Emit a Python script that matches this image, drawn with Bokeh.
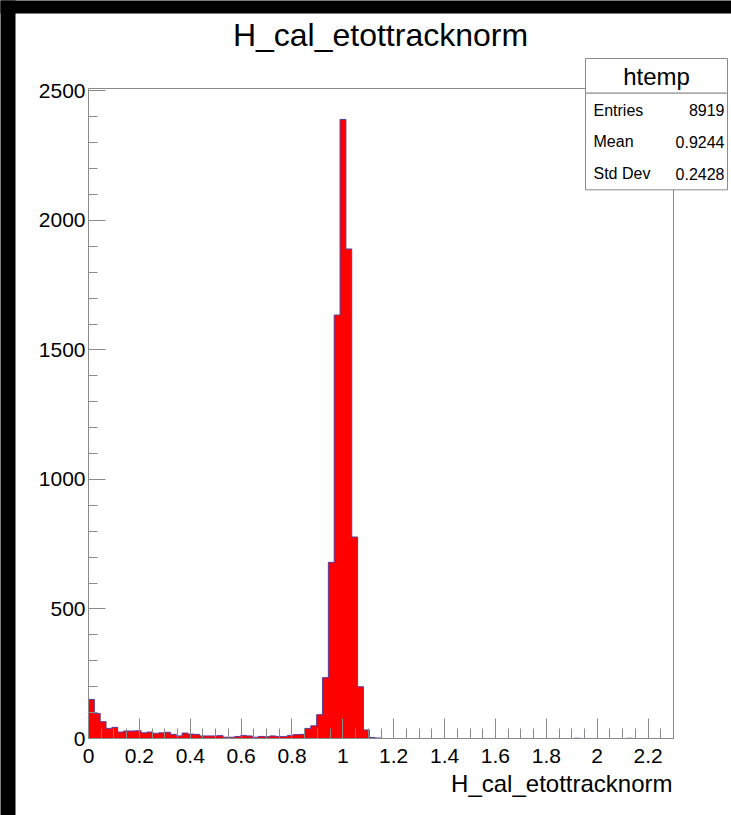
import numpy as np
from bokeh.plotting import figure
from bokeh.models import (Range1d, FixedTicker, CustomJSTickFormatter, Label,
                          BoxAnnotation, LinearAxis)
from bokeh.embed import file_html
from bokeh.resources import INLINE

# ---------------- data ----------------
title_text = "H_cal_etottracknorm"
x_title = "H_cal_etottracknorm"
x_min, x_max = 0.0, 2.3
n_bins = 100
counts = [
    151, 97, 65, 39, 43, 25, 29, 29, 30, 22,
    25, 20, 22, 24, 16, 10, 21, 17, 16, 10,
    10, 10, 11, 5, 5, 8, 12, 10, 5, 8,
    7, 10, 8, 8, 12, 15, 16, 39, 49, 92,
    235, 680, 1635, 2390, 1890, 778, 200, 33, 4, 2,
    0, 0, 0, 0, 0, 0, 0, 0, 0, 0,
    0, 0, 0, 0, 0, 0, 0, 0, 0, 0,
    0, 0, 0, 0, 0, 0, 0, 0, 0, 0,
    0, 0, 0, 1, 0, 0, 0, 0, 0, 0,
    0, 0, 1, 0, 0, 0, 0, 0, 0, 0,
]
x_ticks = [0, 0.2, 0.4, 0.6, 0.8, 1.0, 1.2, 1.4, 1.6, 1.8, 2.0, 2.2]
y_ticks = [0, 500, 1000, 1500, 2000, 2500]
stats_title = "htemp"
stats_names = ["Entries", "Mean", "Std Dev"]
stats_values = ["8919", "0.9244", "0.2428"]

# ---------------- layout constants (page pixels) ----------------
W, H = 731, 815
FL, FR, FT, FB = 88, 673, 88, 738   # ROOT frame edges in page pixels
FONT = "Liberation Sans"
GRAY = "#8a8a8a"

y_top = 1.05 * max(counts)

def px_x(px):
    return x_min + (px - FL) / (FR - FL) * (x_max - x_min)

def px_y(py):
    return y_top - (py - FT) / (FB - FT) * y_top

# the plotting frame covers the whole canvas; the ROOT frame sits inside it
p = figure(width=W, height=H,
           x_range=Range1d(px_x(0), px_x(W)), y_range=Range1d(px_y(H), px_y(0)),
           output_backend="svg", toolbar_location=None,
           x_axis_type=None, y_axis_type=None,
           min_border=0, min_border_left=0, min_border_right=0,
           min_border_top=0, min_border_bottom=0)
p.background_fill_color = "white"
p.border_fill_color = "white"
p.outline_line_color = None
p.xgrid.visible = False
p.ygrid.visible = False

# ROOT frame box
p.quad(left=[x_min], right=[x_max], bottom=[0], top=[y_top],
       fill_color=None, line_color=GRAY, line_width=1)

# ---------------- histogram ----------------
edges = np.linspace(x_min, x_max, n_bins + 1)
hx, hy = [edges[0]], [0.0]
for i, c in enumerate(counts):
    hx += [edges[i], edges[i + 1]]
    hy += [c, c]
hx.append(edges[-1]); hy.append(0.0)
p.patch(hx, hy, fill_color="#ff0000", line_color="#5a3c9c", line_width=1)

# ---------------- axes ----------------
x_minor = [round(v, 2) for v in np.arange(0, x_max + 1e-9, 0.05)]
xaxis = LinearAxis(ticker=FixedTicker(ticks=x_ticks, minor_ticks=x_minor),
                   formatter=CustomJSTickFormatter(code="return String(tick)"),
                   fixed_location=0, bounds=(x_min, x_max))
y_minor = list(range(0, 2600, 100))
yaxis = LinearAxis(ticker=FixedTicker(ticks=y_ticks, minor_ticks=y_minor),
                   fixed_location=x_min, bounds=(0, y_top))
for ax, maj, mnr in ((xaxis, 20, 10), (yaxis, 17, 9)):
    ax.axis_line_color = GRAY
    ax.major_tick_line_color = GRAY
    ax.minor_tick_line_color = GRAY
    ax.major_tick_in = maj
    ax.major_tick_out = 0
    ax.minor_tick_in = mnr
    ax.minor_tick_out = 0
    ax.major_label_text_font = FONT
    ax.major_label_text_font_size = "21px"
    ax.major_label_text_color = "black"
xaxis.major_label_standoff = 10
yaxis.major_label_standoff = 3
p.add_layout(xaxis, "below")
p.add_layout(yaxis, "left")

# ---------------- titles ----------------
p.add_layout(Label(x=px_x(380), y=px_y(34), text=title_text, text_font=FONT,
                   text_font_size="32px", text_align="center",
                   text_baseline="middle", text_color="black"))
p.add_layout(Label(x=px_x(672), y=px_y(783), text=x_title, text_font=FONT,
                   text_font_size="24px", text_align="right",
                   text_baseline="middle", text_color="black"))

# ---------------- stats box ----------------
BL, BR, BT, BH, BB = 585, 727, 58, 92.7, 189.3
for top, bot in ((BT, BH), (BH, BB)):
    p.add_layout(BoxAnnotation(left=px_x(BL), right=px_x(BR), top=px_y(top),
                               bottom=px_y(bot), fill_color="white", fill_alpha=1.0,
                               line_color=GRAY, line_width=1, line_alpha=1.0))
p.add_layout(Label(x=px_x((BL + BR) / 2), y=px_y(75.5), text=stats_title,
                   text_font=FONT, text_font_size="24px", text_align="center",
                   text_baseline="middle", text_color="black"))
row_y = [109.5, 141, 173]
for name, val, ry in zip(stats_names, stats_values, row_y):
    p.add_layout(Label(x=px_x(593), y=px_y(ry), text=name, text_font=FONT,
                       text_font_size="16px", text_align="left",
                       text_baseline="middle", text_color="black"))
    p.add_layout(Label(x=px_x(724), y=px_y(ry), text=val, text_font=FONT,
                       text_font_size="16px", text_align="right",
                       text_baseline="middle", text_color="black"))

# ---------------- black strips of the screenshot ----------------
p.add_layout(BoxAnnotation(left=px_x(-10), right=px_x(15), top=px_y(-10),
                           bottom=px_y(H + 10), fill_color="black", fill_alpha=1.0,
                           line_color=None))
p.add_layout(BoxAnnotation(left=px_x(-10), right=px_x(W + 10), top=px_y(-10),
                           bottom=px_y(13), fill_color="black", fill_alpha=1.0,
                           line_color=None))

html = file_html(p, INLINE)
html = html.replace("<head>", "<head><style>html,body{margin:0;padding:0;"
                    "background:#fff;overflow:hidden;}</style>", 1)
open("out.html", "w").write(html)
